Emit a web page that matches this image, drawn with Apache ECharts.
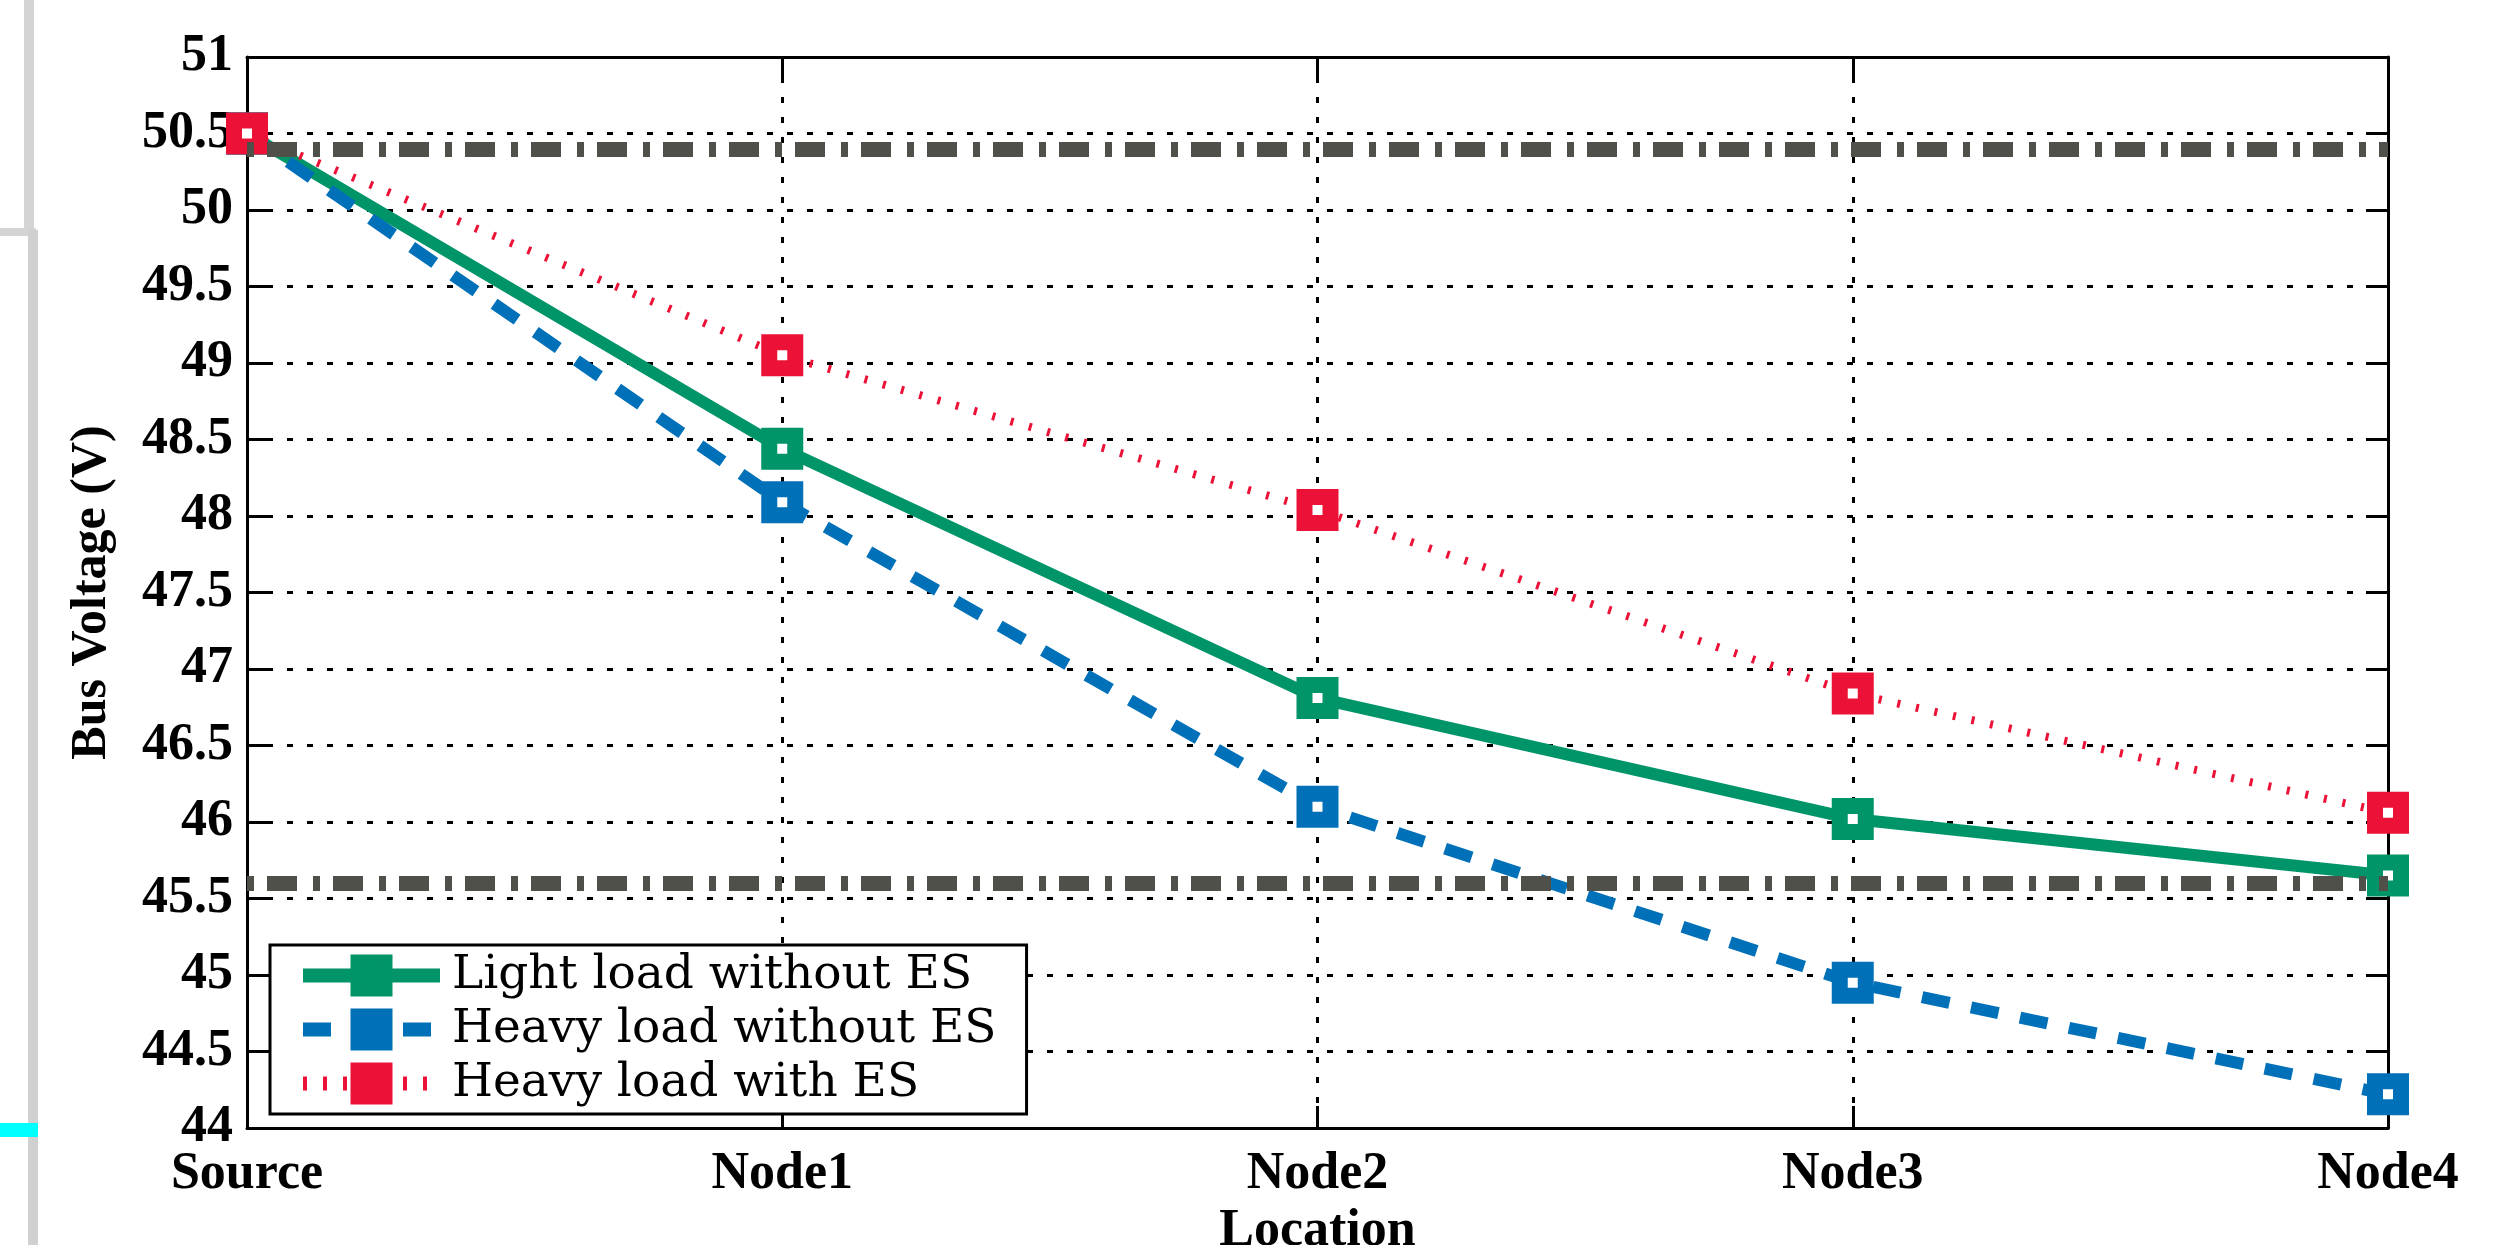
<!DOCTYPE html>
<html>
<head>
<meta charset="utf-8">
<script src="https://cdn.jsdelivr.net/npm/echarts@6/dist/echarts.min.js"></script>
<style>
html,body{margin:0;padding:0;background:#fff;}
#chart{width:2509px;height:1245px;}
</style>
</head>
<body>
<div id="chart"></div>
<script>
// ---- data ----
const categories = ['Source', 'Node1', 'Node2', 'Node3', 'Node4'];
const lightNoES = [50.5, 48.44, 46.81, 46.02, 45.65];
const heavyNoES = [50.5, 48.09, 46.10, 44.95, 44.22];
const heavyES = [50.5, 49.05, 48.04, 46.84, 46.06];
const seriesNames = ['Light load without ES', 'Heavy load without ES', 'Heavy load with ES'];
const upperLimit = 50.4;
const lowerLimit = 45.6;
const yMin = 44, yMax = 51, yStep = 0.5;

const GREEN = '#009469', BLUE = '#0070B8', RED = '#EC1237', GREY = '#50504A';
const tickFont = { fontFamily: 'Liberation Serif', fontWeight: 'bold', fontSize: 52, color: '#000' };

const chart = echarts.init(document.getElementById('chart'), null, { renderer: 'canvas' });

const gridLine = { show: true, lineStyle: { color: '#000', width: 3, type: [6, 14] } };

function mkSeries(name, data, color, width, dash) {
  return {
    name: name, type: 'line', data: data,
    xAxisIndex: 0, yAxisIndex: 0,
    symbol: 'rect', symbolSize: 26,
    lineStyle: { color: color, width: width, type: dash, cap: 'butt' },
    itemStyle: { color: '#fff', borderColor: color, borderWidth: 16 },
    emphasis: { disabled: true },
    animation: false
  };
}

const s0 = mkSeries(seriesNames[0], lightNoES, GREEN, 12, 'solid');
s0.markLine = {
  silent: true, symbol: 'none', animation: false,
  label: { show: false },
  lineStyle: { color: GREY, width: 15, type: [30, 16, 7, 13], dashOffset: 46, cap: 'butt' },
  data: [{ yAxis: upperLimit }, { yAxis: lowerLimit }]
};
const s1 = mkSeries(seriesNames[1], heavyNoES, BLUE, 12, [28, 22]);
const s2 = mkSeries(seriesNames[2], heavyES, RED, 8, [3, 16]);

function legendItem(name, color, dash) {
  return {
    name: name,
    itemStyle: { color: color, borderColor: color, borderWidth: 10 },
    lineStyle: { color: color, width: 14, type: dash, cap: 'butt' }
  };
}

const option = {
  backgroundColor: '#fff',
  animation: false,
  grid: { left: 247, right: 121, top: 57, bottom: 117, containLabel: false, outerBoundsMode: 'none' },
  legend: {
    orient: 'vertical', left: 270, top: 945,
    backgroundColor: '#fff', borderColor: '#000', borderWidth: 3, borderRadius: 0,
    padding: [7, 30, 7, 26], itemGap: 7, itemWidth: 137, itemHeight: 40,
    textStyle: { fontFamily: 'DejaVu Serif', fontSize: 47, lineHeight: 44, color: '#000', padding: [0, 0, 0, 7] },
    data: [
      legendItem(seriesNames[0], GREEN, 'solid'),
      legendItem(seriesNames[1], BLUE, [28, 22]),
      legendItem(seriesNames[2], RED, [4, 16])
    ]
  },
  xAxis: [
    {
      type: 'category', data: categories, boundaryGap: false, position: 'bottom',
      name: 'Location', nameLocation: 'middle', nameGap: 78,
      nameTextStyle: tickFont,
      axisLine: { show: true, lineStyle: { color: '#000', width: 3 } },
      axisTick: { show: true, inside: true, length: 22, interval: 0, lineStyle: { color: '#000', width: 3 } },
      axisLabel: Object.assign({ margin: 21, interval: 0 }, tickFont),
      splitLine: Object.assign({ interval: 0 }, gridLine)
    },
    {
      type: 'category', data: categories, boundaryGap: false, position: 'top',
      axisLine: { show: true, lineStyle: { color: '#000', width: 3 } },
      axisTick: { show: true, inside: true, length: 22, interval: 0, lineStyle: { color: '#000', width: 3 } },
      axisLabel: { show: false }, splitLine: { show: false }
    }
  ],
  yAxis: [
    {
      type: 'value', min: yMin, max: yMax, interval: yStep, position: 'left',
      name: 'Bus Voltage (V)', nameLocation: 'middle', nameGap: 130,
      nameTextStyle: Object.assign({}, tickFont, { fontSize: 50 }),
      axisLine: { show: true, lineStyle: { color: '#000', width: 3 } },
      axisTick: { show: true, inside: true, length: 22, lineStyle: { color: '#000', width: 3 } },
      axisLabel: Object.assign({ margin: 14 }, tickFont),
      splitLine: gridLine
    },
    {
      type: 'value', min: yMin, max: yMax, interval: yStep, position: 'right',
      axisLine: { show: true, lineStyle: { color: '#000', width: 3 } },
      axisTick: { show: true, inside: true, length: 22, lineStyle: { color: '#000', width: 3 } },
      axisLabel: { show: false }, splitLine: { show: false }
    }
  ],
  graphic: [
    { type: 'rect', silent: true, shape: { x: 24, y: 0, width: 10, height: 234 }, style: { fill: '#d4d4d4' } },
    { type: 'rect', silent: true, shape: { x: 0, y: 228, width: 36, height: 8 }, style: { fill: '#d4d4d4' } },
    { type: 'rect', silent: true, shape: { x: 28, y: 230, width: 10, height: 1015 }, style: { fill: '#d0d0d0' } },
    { type: 'rect', silent: true, shape: { x: 0, y: 1123, width: 38, height: 14 }, style: { fill: '#00FFFF' } }
  ],
  series: [s0, s1, s2]
};
chart.setOption(option);
</script>
</body>
</html>
